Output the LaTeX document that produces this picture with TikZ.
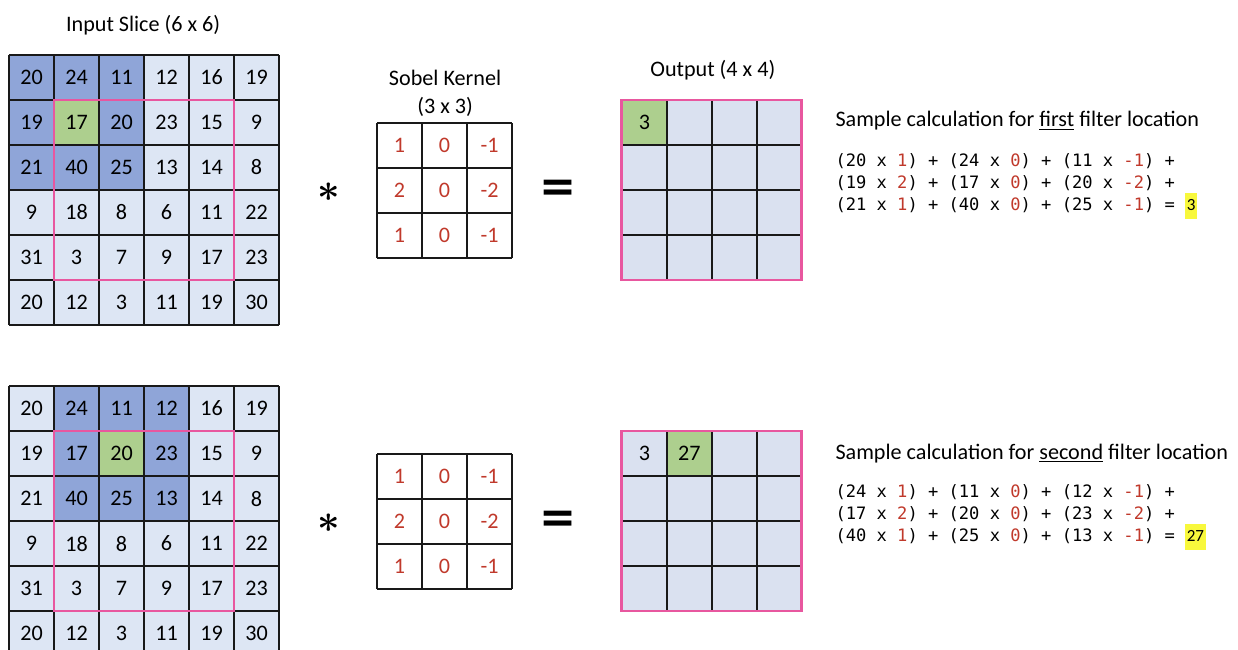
\documentclass[tikz,border=0pt]{standalone}
\usepackage{fontspec}
\setmainfont{Carlito}
\newfontfamily\codefont{DejaVu Sans Mono}
\newfontfamily\symfont{DejaVu Sans}
\usetikzlibrary{positioning, calc}

\definecolor{darkcell}{HTML}{8FA5D8}
\definecolor{lightcell}{HTML}{DDE6F4}
\definecolor{greencell}{HTML}{ADCF8E}
\definecolor{outcell}{HTML}{DAE1F0}
\definecolor{windowpink}{HTML}{E8579F}
\definecolor{kernred}{HTML}{C0392B}
\definecolor{hiyellow}{HTML}{F8F83C}

\newcommand{\rd}[1]{\textcolor{kernred}{#1}}
\newcommand{\hl}[1]{{\fboxsep=1pt\colorbox{hiyellow}{\normalfont\strut#1}}}

\begin{document}
\begin{tikzpicture}[
  num/.style={font=\fontsize{14}{17}\selectfont, inner sep=0pt},
  kern/.style={num, text=kernred},
  gridline/.style={line width=1pt, black!90},
  window/.style={line width=1.8pt, windowpink},
  title/.style={font=\fontsize{14}{17.6}\selectfont, align=center},
  calc/.style={font=\codefont\fontsize{10.8}{13.9}\selectfont, align=left, anchor=west, inner sep=0pt},
  op/.style={font=\fontsize{30}{32}\selectfont\boldmath, inner sep=0pt}]
\useasboundingbox (0,0) rectangle (27.511,-14.444);
% titles (top row only)
\node[title] (intitle) at (3.18,-0.556) {Input Slice (6 x 6)};
\node[title] (kertitle) at (9.89,-2.067) {Sobel Kernel\\(3 x 3)};
\node[title] (outtitle) at (15.84,-1.556) {Output (4 x 4)};
% two filter locations, shifted by one column
\foreach \p/\k/\dy/\outs in {a/0/0/{3}, b/1/-7.356/{3,27}} {
\begin{scope}[yshift=\dy cm]
  % input slice
  \begin{scope}[shift={(0.2,-1.222)}]
    \fill[lightcell] (0,0) rectangle (6,-6);
    \fill[darkcell] (\k,0) rectangle (\k+3,-3);
    \fill[greencell] (\k+1,-1) rectangle (\k+2,-2);
    \draw[gridline] (0,0) grid (6,-6);
    \draw[window] (1,-1) rectangle (5,-5);
    \foreach \row [count=\r from 0] in {{20,24,11,12,16,19},{19,17,20,23,15,9},{21,40,25,13,14,8},{9,18,8,6,11,22},{31,3,7,9,17,23},{20,12,3,11,19,30}}
      \foreach \v [count=\c from 0] in \row
        \node[num] (\p-in-\r-\c) at (\c+0.5,-\r-0.5) {\v};
  \end{scope}
  \node[op] (\p-star) at (7.31,-4.27) {$\ast$};
  % kernel
  \begin{scope}[shift={(8.378,-2.733)}]
    \draw[gridline] (0,0) grid (3,-3);
    \foreach \row [count=\r from 0] in {{1,0,-1},{2,0,-2},{1,0,-1}}
      \foreach \v [count=\c from 0] in \row
        \node[kern] (\p-ker-\r-\c) at (\c+0.5,-\r-0.5) {\v};
  \end{scope}
  \node[op, font=\symfont\bfseries\fontsize{28}{30}\selectfont] (\p-eq) at (12.4,-4.25) {=};
  % output
  \begin{scope}[shift={(13.82,-2.222)}]
    \fill[outcell] (0,0) rectangle (4,-4);
    \fill[greencell] (\k,0) rectangle (\k+1,-1);
    \draw[gridline] (0,0) grid (4,-4);
    \draw[window] (0,0) rectangle (4,-4);
    \foreach \o [count=\c from 0] in \outs
      \node[num] (\p-out-\c) at (\c+0.5,-0.5) {\o};
  \end{scope}
\end{scope}
}
% sample calculations
\node[title, anchor=west, inner sep=0pt] (acalctitle) at (18.56,-2.69) {Sample calculation for \underline{first} filter location};
\node[calc] (acalc) at (18.56,-4.133) {(20 x \rd{1}) + (24 x \rd{0}) + (11 x \rd{-1}) +\\(19 x \rd{2}) + (17 x \rd{0}) + (20 x \rd{-2}) +\\(21 x \rd{1}) + (40 x \rd{0}) + (25 x \rd{-1}) = \hl{3}};
\node[title, anchor=west, inner sep=0pt] (bcalctitle) at (18.56,-10.07) {Sample calculation for \underline{second} filter location};
\node[calc] (bcalc) at (18.56,-11.49) {(24 x \rd{1}) + (11 x \rd{0}) + (12 x \rd{-1}) +\\(17 x \rd{2}) + (20 x \rd{0}) + (23 x \rd{-2}) +\\(40 x \rd{1}) + (25 x \rd{0}) + (13 x \rd{-1}) = \hl{27}};
\end{tikzpicture}
\end{document}
